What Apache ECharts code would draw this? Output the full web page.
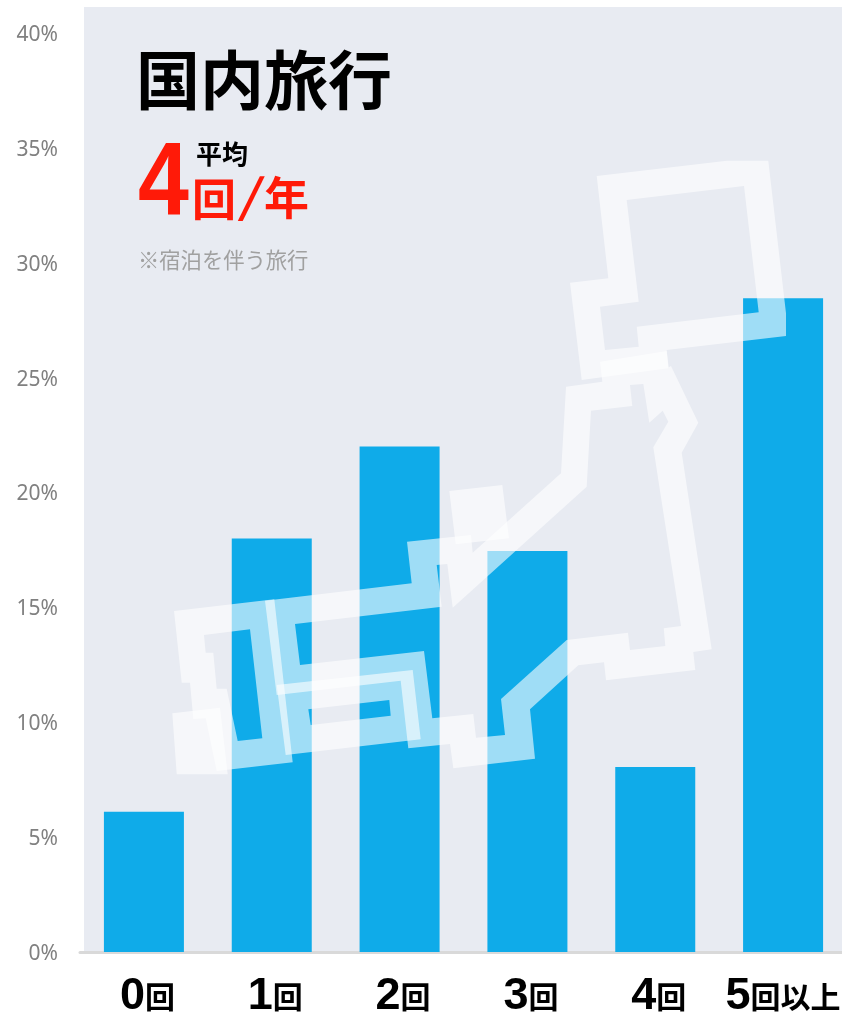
<!DOCTYPE html>
<html lang="ja">
<head>
<meta charset="utf-8">
<title>国内旅行</title>
<script src="https://cdn.jsdelivr.net/npm/echarts@6/dist/echarts.min.js"></script>
<style>
  html, body { margin: 0; padding: 0; background: #fff; }
  #chart { width: 842px; height: 1016px; }
</style>
</head>
<body>
<div id="chart"></div>
<script>
const categories = ['0回', '1回', '2回', '3回', '4回', '5回以上']
const shares = [6.1, 18.0, 22.0, 17.45, 8.05, 28.45]
const yTicks = { min: 0, max: 40, interval: 5 }

const cjk = '"Noto Sans CJK JP", sans-serif'
const latin = '"Liberation Sans", sans-serif'
const overlayFill = 'rgba(255,255,255,0.6)'

// japan outline behind the title (pixels)
const hokkaidoOuter = [[596.7,176],[726.7,160.7],[768.3,160.7],[786,313.3],[786,336],[666.7,350],[668.3,368.3],[581.7,380],[570,282.7],[608.3,278.3]]
const hokkaidoInner = [[626.7,200],[638.7,301.7],[600,306.7],[605,350],[638.7,346.7],[636.7,326.7],[758.7,312.3],[744,186]]
const honshuOuter = [[265,600.7],[411.7,583.3],[407,541.7],[471,535],[472.7,552.7],[561,473.3],[566,386.7],[602.3,381.7],[600,361.7],[666.7,351],[668.7,367.3],[671,366],[698.3,422.7],[681.7,452.7],[711.7,649.3],[693.3,652],[695.3,670],[606,680.3],[604,662.3],[578.3,665.3],[530,709.3],[535,758.7],[453.3,768.3],[450,744],[408.3,748.3],[400.7,680.7],[276.7,695]]
const honshuInner = [[295,624],[300,665],[424,651],[432.3,718.3],[473.3,714],[476,737.7],[505,735],[501,699],[566.7,640],[628,632.7],[630,650],[665.3,646],[663.7,628.3],[681,626],[658.3,480],[653.3,447.3],[668.3,421.7],[662.7,410.7],[649.3,422.7],[643.3,384],[630,385],[632.3,406],[591,410.7],[586.7,486.7],[452.7,607.7],[447.3,564],[436.7,565],[441.7,606.7]]
const shikokuOuter = [[276.7,685],[412.7,670],[420.7,739.3],[285.7,755]]
const shikokuInner = [[308.3,709.3],[310.7,725],[390.7,715.7],[389.3,700]]
const kyushuOuter = [[174,611],[274.3,599.3],[292.7,762.3],[216.7,771],[205.7,718.3],[193.3,719],[190,682.7],[181.7,682.7]]
const kyushuInner = [[204,635],[205.7,652.7],[213.3,652.7],[216.7,688.7],[226.7,688.7],[237.7,741],[262.3,738.3],[250,629.3]]
const sado = [[449.3,491],[502.3,485],[509,538.3],[455.7,544.3]]
const tsushima = [[172.3,713.3],[220,707.7],[227.7,774.3],[176.7,774.3]]

// outer and inner run opposite ways, so the inner part stays open
function ring(outer, inner) {
  return outer.concat([outer[0]], inner, [inner[0], outer[0]])
}

function overlay(points) {
  return { type: 'polygon', z: 10, silent: true, shape: { points: points }, style: { fill: overlayFill } }
}

function label(x, y, text, font, color, scaleX) {
  return { type: 'text', z: 20, x: x, y: y, scaleX: scaleX || 1, style: { text: text, fill: color, font: font } }
}

const chart = echarts.init(document.getElementById('chart'), null, { renderer: 'canvas' })

chart.setOption({
  animation: false,
  backgroundColor: '#fff',
  title: {
    text: '国内旅行',
    left: 136,
    top: 48,
    padding: 0,
    textStyle: { fontFamily: cjk, fontSize: 64, fontWeight: 'bold', color: '#000' }
  },
  grid: { left: 80, top: 33, width: 767, height: 919, outerBoundsMode: 'none' },
  xAxis: {
    type: 'category',
    data: categories,
    offset: 1.5,
    axisTick: { show: false },
    axisLine: { lineStyle: { color: '#d9d9d9', width: 3 } },
    axisLabel: {
      interval: 0,
      margin: 21,
      formatter: function (name) {
        // the short labels sit a little right of their bar
        const pad = name.length === 2 ? '{p| }' : ''
        return pad + '{d|' + name.charAt(0) + '}{k|' + name.slice(1) + '}'
      },
      rich: {
        p: { width: 7, fontSize: 10 },
        d: { fontFamily: latin, fontSize: 45, fontWeight: 'bold', color: '#000' },
        k: { fontFamily: cjk, fontSize: 30, fontWeight: 'bold', color: '#000' }
      }
    }
  },
  yAxis: {
    type: 'value',
    min: yTicks.min,
    max: yTicks.max,
    interval: yTicks.interval,
    axisLine: { show: false },
    axisTick: { show: false },
    splitLine: { show: false },
    axisLabel: {
      margin: 22,
      formatter: '{v|{value}%}',
      rich: {
        v: { fontFamily: '"Noto Sans", sans-serif', fontSize: 21, color: '#808080', padding: [4, 0, 0, 0] }
      }
    }
  },
  graphic: [
    { type: 'rect', z: -1, silent: true, shape: { x: 84, y: 7, width: 758, height: 946 }, style: { fill: '#e8ebf2' } },
    overlay(ring(hokkaidoOuter, hokkaidoInner)),
    overlay(ring(honshuOuter, honshuInner)),
    overlay(ring(shikokuOuter, shikokuInner)),
    overlay(ring(kyushuOuter, kyushuInner)),
    overlay(sado),
    overlay(tsushima),
    label(196, 141, '平均', 'bold 26px ' + cjk, '#000'),
    label(138, 134, '4', 'bold 104px ' + latin, '#ff1a08', 0.88),
    label(192, 177, '回', 'bold 44px ' + cjk, '#ff1a08'),
    label(237, 173, '/', 'normal 46px ' + cjk, '#ff1a08', 1.6),
    label(264, 175, '年', 'bold 45px ' + cjk, '#ff1a08'),
    label(138, 249, '※宿泊を伴う旅行', 'normal 21.3px ' + cjk, '#a0a0a0')
  ],
  series: [{
    type: 'bar',
    data: shares,
    barWidth: 80,
    itemStyle: { color: '#0fabe9' }
  }]
})

window.addEventListener('resize', function () {
  chart.resize()
})
</script>
</body>
</html>
